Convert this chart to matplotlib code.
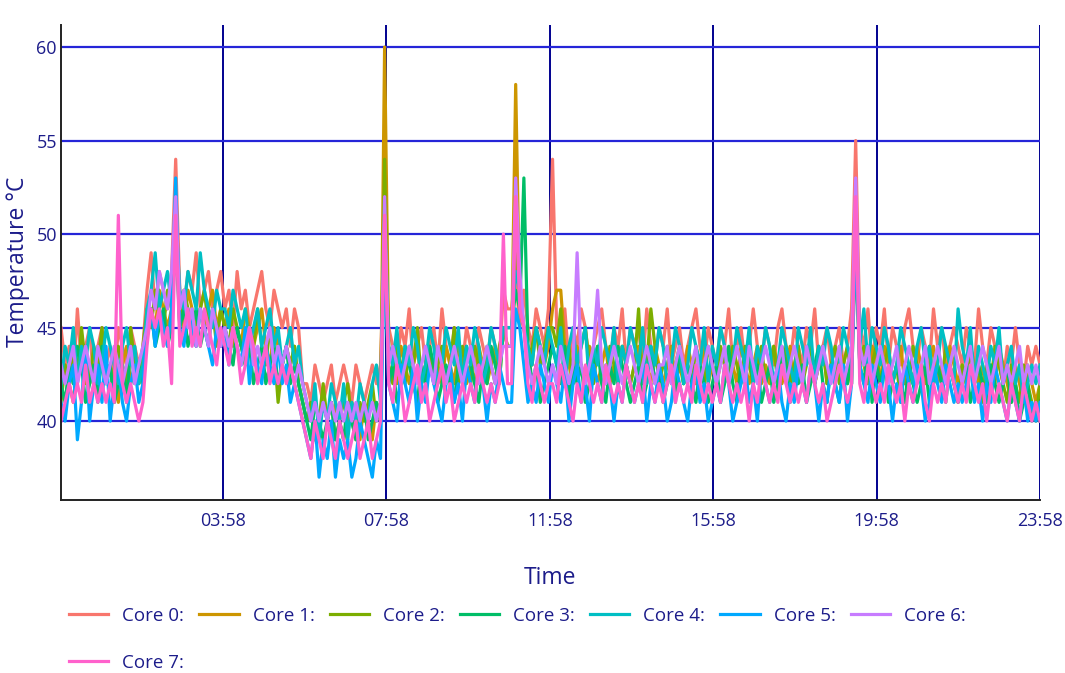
import numpy as np
import pandas as pd
import matplotlib
matplotlib.use('Agg')
import matplotlib.pyplot as plt
import matplotlib.dates as mdates

plt.rcParams['font.family'] = ['Open Sans', 'DejaVu Sans']

# readings every ~6 minutes, 00:00 -> 23:58
core_names = ['Core 0:', 'Core 1:', 'Core 2:', 'Core 3:', 'Core 4:', 'Core 5:', 'Core 6:', 'Core 7:']
core_colors = ['#F8766D', '#CD9600', '#7CAE00', '#00BE67', '#00BFC4', '#00A9FF', '#C77CFF', '#FF61CC']

core0 = """
45 43 44 42 46 43 44 45 42 44 45 43 44 42 45 44 43 45 44 43
44 47 49 46 48 47 46 48 54 47 46 48 47 49 46 47 48 46 47 48
46 47 45 48 46 47 45 46 47 48 46 45 47 46 45 46 44 46 45 42
42 41 43 42 41 42 43 41 42 43 42 41 43 42 41 42 43 42 43 50
45 44 43 45 44 46 43 44 45 43 44 45 43 46 44 43 45 44 43 45
44 43 45 44 43 45 44 43 47 46 46 48 45 47 45 44 46 45 44 46
54 45 44 46 43 45 44 46 45 43 44 45 46 44 43 45 44 46 43 45
44 45 43 46 44 43 45 44 46 43 44 45 43 44 45 46 44 43 45 44
43 45 44 46 43 44 45 43 44 46 44 43 45 44 43 45 46 44 43 45
44 43 45 44 46 43 44 45 43 44 45 43 44 46 55 45 44 46 43 45
44 46 43 45 44 43 45 46 44 43 45 44 43 46 44 45 43 44 45 44
43 45 44 43 46 44 43 45 44 43 42 44 43 45 43 42 44 43 44 43
"""
core1 = """
42 43 42 41 43 44 42 43 42 44 43 42 43 42 41 43 44 42 43 42
43 45 46 45 47 46 45 46 50 46 45 47 46 45 46 45 46 47 45 46
45 46 44 45 44 46 45 44 45 46 44 43 45 44 43 44 43 44 42 41
40 41 39 40 41 40 39 41 40 39 40 41 40 39 41 40 39 41 40 60
44 43 42 44 43 42 43 44 42 43 44 42 43 42 44 43 42 44 43 42
43 42 44 43 42 43 44 42 45 44 44 58 46 45 44 43 45 44 43 44
46 47 47 44 43 42 44 43 42 44 43 42 43 44 42 43 42 44 43 42
43 44 42 43 42 44 43 42 43 44 42 43 42 44 43 42 43 44 42 43
42 43 44 42 43 42 44 43 42 43 44 42 43 42 44 43 42 43 44 42
43 42 44 43 42 43 44 42 43 42 44 43 42 43 50 44 43 42 44 43
42 44 43 42 43 44 42 43 42 44 43 42 43 44 42 43 42 44 43 42
43 42 44 43 42 43 41 43 42 44 43 42 41 43 42 41 43 42 41 42
"""
core2 = """
41 43 42 44 42 45 43 42 44 43 45 42 43 41 44 43 42 45 43 42
44 46 45 47 46 45 47 46 51 45 47 46 45 44 46 47 45 46 44 46
45 44 46 45 44 43 45 44 46 44 43 45 44 41 43 44 43 44 42 41
40 41 39 40 42 40 41 39 40 41 42 40 39 41 40 41 42 40 41 54
43 42 44 43 42 44 43 45 42 43 44 42 43 44 42 43 45 42 44 43
42 44 43 42 44 43 42 44 45 44 44 49 47 45 43 44 45 43 44 45
45 44 46 43 44 42 43 44 45 43 42 44 43 42 44 43 42 44 43 42
43 46 42 43 46 44 42 43 44 42 43 44 42 43 42 44 43 42 44 43
42 44 43 42 44 43 42 44 43 42 43 44 42 43 44 42 43 44 42 43
44 42 43 44 42 43 44 42 43 44 42 43 44 42 50 43 44 42 43 44
42 43 44 42 43 41 43 42 44 43 42 43 44 42 43 42 44 43 42 41
43 42 44 42 43 41 43 42 44 43 42 41 43 42 41 43 42 41 40 42
"""
core3 = """
42 41 43 42 44 43 41 42 43 41 44 42 43 41 42 43 41 44 42 43
42 45 46 44 45 46 44 45 50 45 46 44 45 46 44 45 44 46 45 44
45 44 43 45 44 43 44 42 43 44 42 43 44 42 43 44 42 43 42 41
40 39 41 40 39 40 41 39 40 39 41 40 39 40 41 39 40 41 40 50
42 43 41 42 44 43 42 41 43 42 44 43 41 42 43 42 41 43 42 44
43 42 41 43 42 44 43 42 45 45 45 47 46 53 44 42 43 41 42 43
44 43 42 44 41 43 42 43 41 42 43 44 42 41 43 42 44 43 42 41
42 43 41 42 44 42 43 41 42 43 41 44 42 43 42 41 43 42 41 42
43 41 42 44 42 41 43 42 44 42 43 41 42 43 41 42 44 43 41 42
42 43 41 42 43 44 42 41 43 42 41 43 42 44 49 43 42 44 41 43
42 43 41 42 43 42 41 43 42 41 42 43 41 42 43 42 41 43 42 41
42 43 41 42 43 42 41 43 42 41 42 43 41 42 40 41 42 40 41 40
"""
core4 = """
42 44 43 45 42 44 43 45 44 42 43 45 44 43 42 44 45 43 44 42
43 46 47 49 46 47 48 46 51 47 46 48 47 46 49 47 46 45 47 46
46 45 47 46 45 46 44 45 46 44 45 46 44 45 43 44 45 43 44 42
41 40 42 39 41 40 42 41 40 42 39 41 40 42 41 40 42 43 41 51
44 43 45 42 44 43 45 44 42 43 45 44 42 43 45 44 43 45 42 44
43 45 44 42 43 45 44 43 45 45 45 48 47 45 44 43 45 44 43 45
44 43 45 42 44 45 43 44 45 42 44 43 45 44 43 45 42 44 43 45
44 43 45 42 44 43 45 44 42 43 45 44 42 43 45 44 43 45 42 44
43 45 44 42 43 45 44 43 45 42 44 43 45 44 42 43 45 44 43 42
45 44 43 45 42 44 43 45 44 42 43 45 44 43 51 44 46 43 45 44
43 45 44 42 43 45 44 43 42 44 45 43 44 42 43 45 44 43 42 46
44 43 45 42 44 43 42 44 43 45 42 43 44 42 43 41 42 43 42 43
"""
core5 = """
41 40 42 43 39 41 44 40 42 43 41 44 40 42 43 41 40 42 43 41
42 45 46 44 46 45 44 46 53 45 44 46 45 44 46 45 44 43 45 44
45 43 45 44 43 45 42 44 43 42 44 43 42 44 42 43 41 42 41 40
39 38 40 37 39 38 40 37 39 38 39 37 38 40 39 38 37 39 38 50
42 41 40 43 42 41 43 40 42 41 43 42 41 40 42 43 41 42 40 43
42 41 43 42 40 42 41 43 42 41 41 46 45 43 41 42 41 43 42 41
43 42 41 43 40 42 43 41 42 40 43 42 41 43 42 40 42 41 43 42
41 42 43 40 42 41 43 42 40 41 43 42 41 40 42 43 41 42 40 41
42 41 43 42 40 41 42 43 41 42 40 43 42 41 42 43 41 40 42 41
43 42 41 43 42 40 42 41 43 42 41 43 40 42 50 43 42 41 43 42
41 43 42 40 42 41 43 42 41 43 42 40 41 43 42 41 43 42 41 42
41 42 43 41 42 40 42 41 43 42 41 40 42 41 40 42 40 41 40 41
"""
core6 = """
43 42 43 44 42 43 44 43 42 44 43 42 43 44 43 42 43 44 42 43
44 45 47 46 48 47 46 48 52 46 47 45 46 44 46 45 44 46 45 44
45 44 45 44 43 44 45 43 44 43 44 45 43 44 43 44 43 42 43 42
41 40 41 40 41 40 41 40 41 40 41 40 41 40 41 40 41 40 41 52
43 44 43 42 43 44 43 42 43 44 43 42 44 43 42 43 44 43 42 43
44 43 42 43 44 43 42 43 44 44 44 53 48 45 43 42 43 44 43 42
43 42 44 43 42 43 49 43 42 43 44 47 43 42 43 44 43 42 43 44
43 42 43 44 43 42 43 43 44 42 43 44 43 42 43 44 42 43 44 43
42 43 44 42 43 44 43 42 44 43 42 43 44 43 42 43 44 42 43 44
43 42 44 43 42 43 44 43 42 43 44 42 43 44 53 44 43 44 42 43
44 43 42 43 44 42 43 44 43 42 43 44 42 43 44 43 42 43 44 43
42 43 44 42 43 44 43 42 43 44 42 43 42 43 44 42 43 42 43 42
"""
core7 = """
40 41 42 41 42 41 43 41 42 41 42 41 42 41 51 42 41 42 41 40
41 44 46 45 46 44 45 42 51 44 45 46 44 45 44 46 45 44 43 45
44 43 45 44 42 43 45 44 42 43 44 42 43 42 43 42 43 42 41 40
39 38 40 39 38 40 39 38 40 39 38 39 40 38 39 40 38 39 40 51
42 41 43 42 40 41 42 43 41 42 40 41 42 43 41 42 40 41 42 41
42 41 43 42 41 42 41 42 50 42 42 52 46 45 42 41 43 42 41 42
42 41 43 42 41 40 42 41 43 42 41 42 41 43 42 41 42 41 43 42
41 42 41 43 42 41 42 41 42 43 41 42 41 42 41 43 42 41 42 41
42 41 43 42 41 42 41 42 40 42 41 43 42 41 42 41 43 42 41 42
41 42 41 43 42 41 42 40 41 42 43 42 41 42 52 42 41 43 42 41
42 41 43 42 41 42 40 42 41 42 43 41 40 42 41 42 41 43 42 41
42 41 43 42 41 42 40 42 41 42 41 40 42 41 40 42 41 40 41 40
"""
core_values = [core0, core1, core2, core3, core4, core5, core6, core7]

def parse(block):
    return np.array([int(v) for v in block.split()])

series = [parse(b) for b in core_values]
tick_times = pd.date_range('2024-01-01 03:58', periods=6, freq='4h')
t0 = pd.Timestamp('2024-01-01 00:00')
t1 = pd.Timestamp('2024-01-01 23:58')

text_col = '#1c1c8a'

fig = plt.figure(figsize=(10.65, 6.73), dpi=100)
ax = fig.add_axes([61 / 1065, 1 - 500 / 673, (1040 - 61) / 1065, (500 - 25) / 673])

lines = []
for vals, name, col in zip(series, core_names, core_colors):
    times = pd.date_range(t0, t1, periods=len(vals))
    ln, = ax.plot(times, vals, color=col, lw=2.3, label=name)
    lines.append(ln)

ax.set_xlim(t0, t1)
ax.set_ylim(35.78, 61.18)
ax.set_xticks(tick_times)
ax.xaxis.set_major_formatter(mdates.DateFormatter('%H:%M'))
ax.set_yticks([40, 45, 50, 55, 60])

ax.set_axisbelow(True)
ax.xaxis.grid(True, color='#00008f', lw=1.4)
ax.yaxis.grid(True, color='#2525d8', lw=1.6)

for s in ['top', 'right']:
    ax.spines[s].set_visible(False)
for s in ['left', 'bottom']:
    ax.spines[s].set_color('#222222')
    ax.spines[s].set_linewidth(1.4)

ax.tick_params(length=0, labelsize=13, labelcolor=text_col)
ax.tick_params(axis='x', pad=9)
ax.tick_params(axis='y', pad=3)

fig.text(550 / 1065, 1 - 578 / 673, 'Time', fontsize=16.5, color=text_col,
         ha='center', va='center')
fig.text(18 / 1065, 1 - 262 / 673, 'Temperature °C', fontsize=16.5, color=text_col,
         ha='center', va='center', rotation=90)

# plotly-style legend: row-major, 7 per row
leg_kw = dict(loc='center left', frameon=False, fontsize=13.5, labelcolor=text_col,
              handlelength=2.1, handletextpad=0.75, columnspacing=0.8,
              borderaxespad=0, borderpad=0)
fig.legend(lines[:7], core_names[:7], ncol=7,
           bbox_to_anchor=(69 / 1065, 1 - 616 / 673), **leg_kw)
fig.legend(lines[7:], core_names[7:], ncol=1,
           bbox_to_anchor=(69 / 1065, 1 - 663 / 673), **leg_kw)

fig.savefig('out.png', dpi=100)
